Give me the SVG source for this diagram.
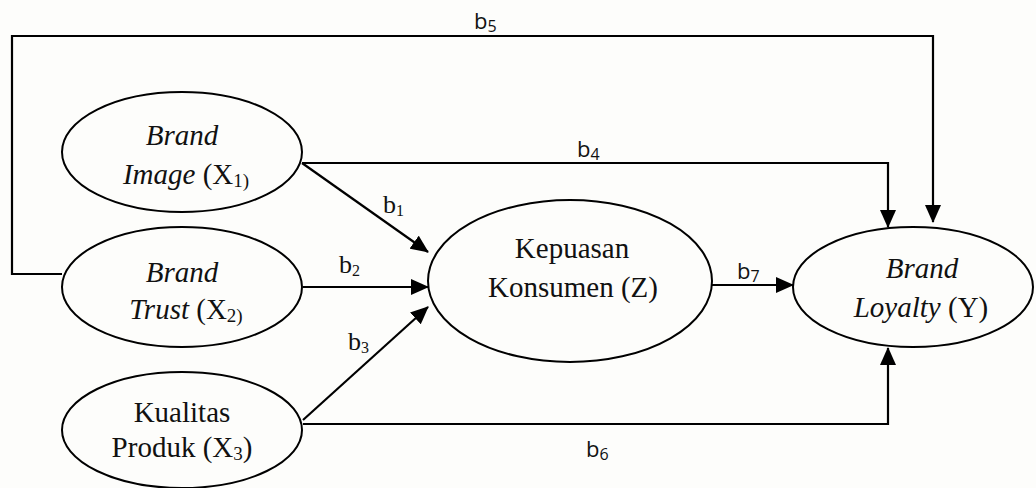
<svg xmlns="http://www.w3.org/2000/svg" width="1036" height="488" viewBox="0 0 1036 488">
<style>
.node ellipse{fill:none;stroke:#000;stroke-width:2}
.lbl{font-size:29px;fill:#111;text-anchor:middle}
.it{font-style:italic}
.sub{font-size:19px}
.conn{fill:none;stroke:#000;stroke-width:2.2}
.bs{font-size:26px;fill:#111}
.bn{font-size:22px;fill:#111}
.bsub{font-size:16px}
</style>
<defs>
<marker id="ah" markerUnits="userSpaceOnUse" markerWidth="18" markerHeight="16" refX="17" refY="8" orient="auto">
<path d="M0,0 L18,8 L0,16 z" fill="#000"/>
</marker>
</defs>
<rect width="1036" height="488" fill="#fdfdfb"/>
<g id="connectors">
<path class="conn" d="M62,274 H12 V36 H933 V222" marker-end="url(#ah)"/>
<path class="conn" d="M302,163 H888 V227" marker-end="url(#ah)"/>
<path class="conn" d="M302,163 L428,252" marker-end="url(#ah)"/>
<path class="conn" d="M303,287 H428" marker-end="url(#ah)"/>
<path class="conn" d="M303,420 L428,307" marker-end="url(#ah)"/>
<path class="conn" d="M303,424 H888 V348" marker-end="url(#ah)"/>
<path class="conn" d="M712,285 H793" marker-end="url(#ah)"/>
<g font-family="'Open Sans', 'Liberation Sans', Arial, sans-serif">
<text class="bn" x="474" y="29">b<tspan class="bsub" dy="3">5</tspan></text>
<text class="bn" x="577" y="157">b<tspan class="bsub" dy="3">4</tspan></text>
<text class="bn" x="586" y="457">b<tspan class="bsub" dy="3">6</tspan></text>
<text class="bn" x="737" y="279">b<tspan class="bsub" dy="3">7</tspan></text>
</g>
<g font-family="'Liberation Serif', 'Times New Roman', 'DejaVu Serif', serif">
<text class="bs" x="383" y="213">b<tspan class="bsub" dy="3">1</tspan></text>
<text class="bs" x="339" y="273">b<tspan class="bsub" dy="3">2</tspan></text>
<text class="bs" x="348" y="350">b<tspan class="bsub" dy="3">3</tspan></text>
</g>
</g>
<g font-family="'Liberation Serif', 'Times New Roman', 'DejaVu Serif', serif">
<g id="brand-image" class="node">
<ellipse cx="182" cy="152" rx="120" ry="60"/>
<text class="lbl it" x="182" y="145">Brand</text>
<text class="lbl" x="186" y="184"><tspan class="it">Image</tspan> (X<tspan class="sub" dy="3">1)</tspan></text>
</g>
<g id="brand-trust" class="node">
<ellipse cx="182" cy="287" rx="120" ry="60"/>
<text class="lbl it" x="182" y="282">Brand</text>
<text class="lbl" x="186" y="319"><tspan class="it">Trust</tspan> (X<tspan class="sub" dy="3">2)</tspan></text>
</g>
<g id="kualitas-produk" class="node">
<ellipse cx="182" cy="430" rx="120" ry="58"/>
<text class="lbl" x="182" y="422">Kualitas</text>
<text class="lbl" x="182" y="457">Produk (X<tspan class="sub" dy="3">3</tspan><tspan dy="-3">)</tspan></text>
</g>
<g id="kepuasan" class="node">
<ellipse cx="570" cy="281" rx="142" ry="81"/>
<text class="lbl" x="572" y="258">Kepuasan</text>
<text class="lbl" x="573" y="297">Konsumen (Z)</text>
</g>
<g id="brand-loyalty" class="node">
<ellipse cx="913" cy="287" rx="120" ry="60"/>
<text class="lbl it" x="922" y="278">Brand</text>
<text class="lbl" x="921" y="317"><tspan class="it">Loyalty</tspan> (Y)</text>
</g>
</g>
</svg>
